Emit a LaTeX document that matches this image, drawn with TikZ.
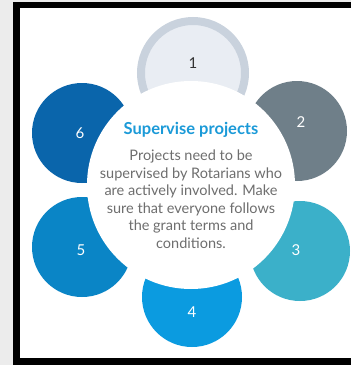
\documentclass[tikz,border=0pt]{standalone}
\usepackage{fontspec}
\setmainfont{Lato}
\usetikzlibrary{positioning}
\definecolor{pageGrey}{HTML}{ECECEC}
\definecolor{ringGrey}{HTML}{C9D2DD}
\definecolor{paleGrey}{HTML}{E9EDF3}
\definecolor{slateGrey}{HTML}{6F7F89}
\definecolor{tealBlue}{HTML}{3BB0C9}
\definecolor{brightBlue}{HTML}{0B9BE0}
\definecolor{midBlue}{HTML}{0A85C6}
\definecolor{darkBlue}{HTML}{0A65AB}
\definecolor{titleBlue}{HTML}{1B9AD8}
\definecolor{bodyGrey}{HTML}{6E6E6E}

\begin{document}
\begin{tikzpicture}[x=1pt, y=-1pt]
        \tikzstyle{petal} = [circle, inner sep=0pt, minimum size=100pt]
        \tikzstyle{number} = [text=white, inner sep=0pt, font=\fontsize{15}{15}\selectfont]
        \tikzstyle{hub} = [circle, fill=white, inner sep=0pt, minimum size=208pt]

        %frame
        \fill[pageGrey] (0,0) rectangle (351,365);
        \fill[black] (13,2) rectangle (351,365);
        \fill[white] (20,8) rectangle (351,358);

        \node[petal, fill=paleGrey, draw=ringGrey, line width=8pt, minimum size=104pt] (p1) at (193,73) {};
        \node[petal, fill=slateGrey] (p2) at (297,131) {};
        \node[petal, fill=tealBlue] (p3) at (300,251) {};
        \node[petal, fill=brightBlue] (p4) at (192,297) {};
        \node[petal, fill=midBlue] (p5) at (82,247) {};
        \node[petal, fill=darkBlue] (p6) at (82,133) {};

        \node[hub] (hub) at (191,185) {};

        \node[number, text=black!80] (n1) at (193,63) {1};
        \node[number] (n2) at (301,122) {2};
        \node[number] (n3) at (296,250) {3};
        \node[number] (n4) at (192,312) {4};
        \node[number] (n5) at (81,250) {5};
        \node[number] (n6) at (80,133) {6};

        %text in the hub
        \node[text=titleBlue, inner sep=0pt, font=\fontsize{16.5}{16.5}\selectfont\bfseries] (title) at (191,130) {Supervise projects};
        \node[text=bodyGrey, inner sep=0pt, align=center, font=\fontsize{14.5}{17.5}\selectfont] (body) at (191,199) {Projects need to be\\supervised by Rotarians who\\are actively involved. Make\\sure that everyone follows\\the grant terms and\\conditions.};
    \end{tikzpicture}
\end{document}
